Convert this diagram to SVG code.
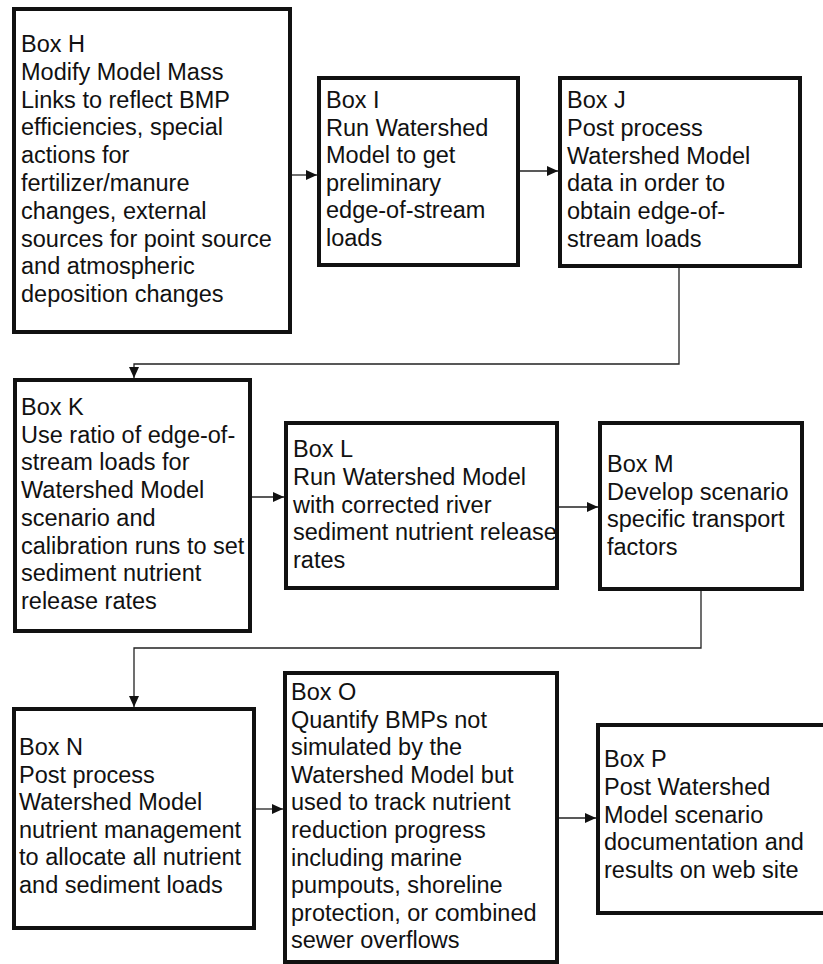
<svg xmlns="http://www.w3.org/2000/svg" width="823" height="964" viewBox="0 0 823 964">
<style>
.box{fill:#fff;stroke:#111;stroke-width:4}
.t{font-family:"Liberation Sans",Arial,sans-serif;font-size:23.5px;fill:#111}
.c{fill:none;stroke:#222;stroke-width:1.3}
</style>
<defs>
<marker id="ah" markerUnits="userSpaceOnUse" markerWidth="12" markerHeight="10" refX="11" refY="5" orient="auto">
<path d="M0,0 L11,5 L0,10 z" fill="#111"/>
</marker>
</defs>
<rect width="823" height="964" fill="#fff"/>
<g id="connectors">
<line class="c" x1="290" y1="175" x2="317" y2="175" marker-end="url(#ah)"/>
<line class="c" x1="518" y1="171" x2="558" y2="171" marker-end="url(#ah)"/>
<path class="c" d="M679,266 V364 H134 V378" marker-end="url(#ah)"/>
<line class="c" x1="250" y1="497" x2="284" y2="497" marker-end="url(#ah)"/>
<line class="c" x1="557" y1="507" x2="598" y2="507" marker-end="url(#ah)"/>
<path class="c" d="M701,589 V648 H134 V707" marker-end="url(#ah)"/>
<line class="c" x1="254" y1="809" x2="283" y2="809" marker-end="url(#ah)"/>
<line class="c" x1="557" y1="818" x2="596" y2="818" marker-end="url(#ah)"/>
</g>
<g id="boxH">
<rect class="box" x="14" y="9" width="276" height="323"/>
<text class="t"><tspan x="21" y="52">Box H</tspan><tspan x="21" y="79.8">Modify Model Mass</tspan><tspan x="21" y="107.6">Links to reflect BMP</tspan><tspan x="21" y="135.4">efficiencies, special</tspan><tspan x="21" y="163.2">actions for</tspan><tspan x="21" y="191">fertilizer/manure</tspan><tspan x="21" y="218.8">changes, external</tspan><tspan x="21" y="246.6">sources for point source</tspan><tspan x="21" y="274.4">and atmospheric</tspan><tspan x="21" y="302.2">deposition changes</tspan></text>
</g>
<g id="boxI">
<rect class="box" x="319" y="78" width="199" height="187"/>
<text class="t"><tspan x="326" y="108">Box I</tspan><tspan x="326" y="135.5">Run Watershed</tspan><tspan x="326" y="163">Model to get</tspan><tspan x="326" y="190.5">preliminary</tspan><tspan x="326" y="218">edge-of-stream</tspan><tspan x="326" y="245.5">loads</tspan></text>
</g>
<g id="boxJ">
<rect class="box" x="560" y="78" width="240" height="188"/>
<text class="t"><tspan x="567" y="108">Box J</tspan><tspan x="567" y="135.8">Post process</tspan><tspan x="567" y="163.6">Watershed Model</tspan><tspan x="567" y="191.4">data in order to</tspan><tspan x="567" y="219.2">obtain edge-of-</tspan><tspan x="567" y="247">stream loads</tspan></text>
</g>
<g id="boxK">
<rect class="box" x="15" y="380" width="235" height="251"/>
<text class="t"><tspan x="21" y="415">Box K</tspan><tspan x="21" y="442.7">Use ratio of edge-of-</tspan><tspan x="21" y="470.4">stream loads for</tspan><tspan x="21" y="498.1">Watershed Model</tspan><tspan x="21" y="525.8">scenario and</tspan><tspan x="21" y="553.5">calibration runs to set</tspan><tspan x="21" y="581.2">sediment nutrient</tspan><tspan x="21" y="608.9">release rates</tspan></text>
</g>
<g id="boxL">
<rect class="box" x="286" y="423" width="271" height="165"/>
<text class="t"><tspan x="293" y="457">Box L</tspan><tspan x="293" y="484.8">Run Watershed Model</tspan><tspan x="293" y="512.6">with corrected river</tspan><tspan x="293" y="540.4">sediment nutrient release</tspan><tspan x="293" y="568.2">rates</tspan></text>
</g>
<g id="boxM">
<rect class="box" x="600" y="423" width="202" height="166"/>
<text class="t"><tspan x="607" y="472">Box M</tspan><tspan x="607" y="499.5">Develop scenario</tspan><tspan x="607" y="527">specific transport</tspan><tspan x="607" y="554.5">factors</tspan></text>
</g>
<g id="boxN">
<rect class="box" x="14" y="709" width="240" height="219"/>
<text class="t"><tspan x="19" y="755">Box N</tspan><tspan x="19" y="782.6">Post process</tspan><tspan x="19" y="810.2">Watershed Model</tspan><tspan x="19" y="837.8">nutrient management</tspan><tspan x="19" y="865.4">to allocate all nutrient</tspan><tspan x="19" y="893">and sediment loads</tspan></text>
</g>
<g id="boxO">
<rect class="box" x="285" y="673" width="272" height="289"/>
<text class="t"><tspan x="291" y="700">Box O</tspan><tspan x="291" y="727.6">Quantify BMPs not</tspan><tspan x="291" y="755.2">simulated by the</tspan><tspan x="291" y="782.8">Watershed Model but</tspan><tspan x="291" y="810.4">used to track nutrient</tspan><tspan x="291" y="838">reduction progress</tspan><tspan x="291" y="865.6">including marine</tspan><tspan x="291" y="893.2">pumpouts, shoreline</tspan><tspan x="291" y="920.8">protection, or combined</tspan><tspan x="291" y="948.4">sewer overflows</tspan></text>
</g>
<g id="boxP">
<rect class="box" x="598" y="725" width="240" height="188"/>
<text class="t"><tspan x="604" y="767">Box P</tspan><tspan x="604" y="794.8">Post Watershed</tspan><tspan x="604" y="822.6">Model scenario</tspan><tspan x="604" y="850.4">documentation and</tspan><tspan x="604" y="878.2">results on web site</tspan></text>
</g>
</svg>
